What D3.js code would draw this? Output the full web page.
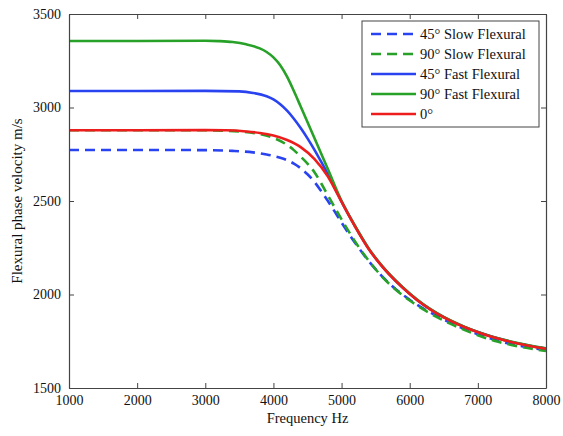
<!DOCTYPE html>
<html><head><meta charset="utf-8">
<script src="https://cdn.jsdelivr.net/npm/d3@7"></script>
<style>
body{margin:0;background:#fff;}
svg{display:block;font-family:"Liberation Serif","Times New Roman",serif;}
</style></head>
<body>
<script>
const xTicks = [1000,2000,3000,4000,5000,6000,7000,8000];
const yTicks = [1500,2000,2500,3000,3500];

const freqSlow45 = [1000,2000,3000,3400,3700,3900,4000,4100,4200,4300,4400,4500,4600,4700,4800,4900,5000,5200,5400,5600,5800,6000,6200,6400,6600,6800,7000,7300,7600,8000];
const slow45     = [2773,2773,2772,2768,2760,2749,2741,2731,2718,2700,2675,2643,2603,2553,2500,2443,2385,2275,2178,2095,2027,1972,1925,1884,1848,1816,1787,1752,1727,1703];

const freqSlow90 = [1000,2000,3000,3500,3800,4000,4200,4300,4400,4500,4600,4700,4800,4900,5000,5200,5400,5600,5800,6000,6200,6400,6600,6800,7000,7300,7600,8000];
const slow90     = [2878,2878,2878,2872,2858,2837,2800,2772,2737,2700,2655,2595,2530,2465,2402,2282,2180,2093,2024,1968,1920,1879,1843,1811,1782,1747,1722,1698];

const freqFast45 = [1000,2000,3000,3500,3700,3900,4000,4100,4200,4300,4400,4500,4600,4700,4800,4900,5000,5200,5400,5600,5800,6000,6200,6400,6600,6800,7000,7200,7400,7600,7800,8000];
const fast45     = [3088,3088,3089,3086,3078,3060,3043,3017,2983,2940,2890,2835,2775,2710,2642,2570,2497,2364,2244,2149,2071,2004,1946,1899,1860,1827,1799,1775,1755,1738,1723,1711];

const freqFast90 = [1000,2000,3000,3200,3400,3600,3800,3900,4000,4100,4200,4300,4400,4600,4800,5000,5200,5400,5600,5800,6000,6200,6400,6600,6800,7000,7200,7400,7600,7800,8000];
const fast90     = [3356,3356,3357,3355,3350,3338,3316,3297,3268,3226,3165,3088,3005,2838,2670,2500,2365,2245,2150,2072,2005,1947,1900,1861,1828,1800,1776,1756,1739,1724,1712];

const freqZero = [1000,2000,3000,3300,3600,3800,4000,4200,4400,4600,4800,4900,5000,5200,5400,5600,5800,6000,6200,6400,6600,6800,7000,7200,7400,7600,7800,8000];
const zero     = [2878,2878,2879,2878,2872,2864,2850,2826,2788,2725,2630,2565,2495,2362,2242,2148,2070,2003,1945,1898,1859,1826,1798,1774,1754,1737,1722,1710];

const seriesNames = ["45° Slow Flexural","90° Slow Flexural","45° Fast Flexural","90° Fast Flexural","0°"];
const seriesColors = ["#2a43f0","#27a127","#2a43f0","#27a127","#ee1d1d"];
const seriesDashed = [true,true,false,false,false];

const series = [
  {x:freqSlow45,y:slow45},
  {x:freqSlow90,y:slow90},
  {x:freqFast45,y:fast45},
  {x:freqFast90,y:fast90},
  {x:freqZero,y:zero}
];

const W=563,H=436;
const m={l:69,r:17,t:14,b:48};
const svg=d3.select("body").append("svg").attr("width",W).attr("height",H);
const x=d3.scaleLinear().domain([1000,8000]).range([m.l,W-m.r]);
const y=d3.scaleLinear().domain([1500,3500]).range([H-m.b,m.t]);
const axisColor="#444";

// lines
const line=d3.line().x(d=>x(d[0])).y(d=>y(d[1])).curve(d3.curveMonotoneX);
svg.append("clipPath").attr("id","c").append("rect")
  .attr("x",m.l).attr("y",m.t).attr("width",W-m.r-m.l).attr("height",H-m.b-m.t);
const g=svg.append("g").attr("clip-path","url(#c)");
series.forEach((s,i)=>{
  const pts=s.x.map((v,j)=>[v,s.y[j]]);
  g.append("path").attr("d",line(pts)).attr("fill","none")
   .attr("stroke",seriesColors[i]).attr("stroke-width",2.6)
   .attr("stroke-dasharray",seriesDashed[i]?"10,6":null);
});

// axes
const fs="14px";
const bx=svg.append("g").attr("transform",`translate(0,${H-m.b})`)
  .call(d3.axisBottom(x).tickValues(xTicks).tickFormat(d3.format("d")).tickSizeInner(-5).tickSizeOuter(0).tickPadding(9));
const tx=svg.append("g").attr("transform",`translate(0,${m.t})`)
  .call(d3.axisTop(x).tickValues(xTicks).tickFormat("").tickSizeInner(-5).tickSizeOuter(0));
const ly=svg.append("g").attr("transform",`translate(${m.l},0)`)
  .call(d3.axisLeft(y).tickValues(yTicks).tickFormat(d3.format("d")).tickSizeInner(-5).tickSizeOuter(0).tickPadding(8));
const ry=svg.append("g").attr("transform",`translate(${W-m.r},0)`)
  .call(d3.axisRight(y).tickValues(yTicks).tickFormat("").tickSizeInner(-5).tickSizeOuter(0));
[bx,tx,ly,ry].forEach(a=>{
  a.select(".domain").attr("stroke",axisColor).attr("stroke-width",1.2);
  a.selectAll(".tick line").attr("stroke",axisColor);
  a.selectAll("text").attr("font-size",fs).attr("fill","#111").attr("font-family","Liberation Serif, serif");
});
bx.selectAll("text").attr("dy","0.55em");

svg.append("text").attr("x",(m.l+W-m.r)/2).attr("y",423).attr("text-anchor","middle")
  .attr("font-size","14.5px").attr("fill","#111").text("Frequency Hz");
svg.append("text").attr("transform",`translate(22,${(m.t+H-m.b)/2}) rotate(-90)`)
  .attr("text-anchor","middle").attr("font-size","15px").attr("fill","#111").text("Flexural phase velocity m/s");

// legend
const lg=svg.append("g");
lg.append("rect").attr("x",362).attr("y",21).attr("width",177).attr("height",106)
  .attr("fill","#fff").attr("stroke",axisColor).attr("stroke-width",1);
seriesNames.forEach((n,i)=>{
  const yy=34+i*20;
  lg.append("line").attr("x1",371).attr("x2",416).attr("y1",yy).attr("y2",yy)
    .attr("stroke",seriesColors[i]).attr("stroke-width",2.6)
    .attr("stroke-dasharray",seriesDashed[i]?"10,6":null);
  lg.append("text").attr("x",420).attr("y",yy).attr("dy","0.35em")
    .attr("font-size","14.5px").attr("fill","#111").text(n);
});
</script>
</body></html>
